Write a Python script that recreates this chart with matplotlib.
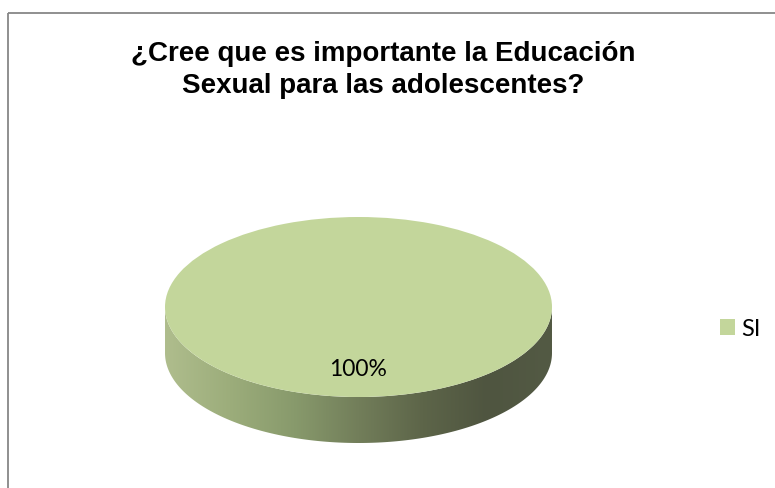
import numpy as np
import matplotlib
matplotlib.use("Agg")
import matplotlib.pyplot as plt
from matplotlib.patches import Rectangle, Polygon
from matplotlib.colors import LinearSegmentedColormap

# survey answer shares
labels = ["SI"]
values = [100]

title = "¿Cree que es importante la Educación\nSexual para las adolescentes?"

W, H = 775, 488
top_color = "#c3d69b"
side_colors = ["#afbd8d", "#9cad7b", "#889a6c", "#727e5a", "#5d6549", "#4f5540", "#535a44"]

# pie geometry in pixels (y grows downward)
cx, cy = 358.5, 307.0
rx, ry = 193.5, 90.0
depth = 46.0

fig = plt.figure(figsize=(W / 100, H / 100), dpi=100)
fig.patch.set_facecolor("white")

base = fig.add_axes([0, 0, 1, 1])
base.set_xlim(0, W)
base.set_ylim(H, 0)
base.axis("off")

# chart area border (runs off the right and bottom edges)
base.add_patch(Rectangle((8, 12.7), W + 20, H + 20, fill=False,
                         edgecolor="#878787", linewidth=1.3))

base.text(383.5, 70, title, ha="center", va="center", fontsize=20,
          fontweight="bold", family="Liberation Sans", linespacing=1.3,
          color="black")

# side wall of the 3d pie, shaded left to right
t = np.linspace(0, np.pi, 200)
upper = np.column_stack([cx - rx * np.cos(t), cy + ry * np.sin(t)])
lower = np.column_stack([cx - rx * np.cos(t[::-1]), cy + depth + ry * np.sin(t[::-1])])
band = Polygon(np.vstack([upper, lower]), closed=True, facecolor="none", edgecolor="none")
base.add_patch(band)
cmap = LinearSegmentedColormap.from_list("side", side_colors)
grad = np.linspace(0, 1, 256).reshape(1, -1)
img = base.imshow(grad, cmap=cmap, aspect="auto",
                  extent=(cx - rx, cx + rx, cy + ry + depth, cy - 5),
                  interpolation="bilinear", zorder=1)
img.set_clip_path(band)
base.set_xlim(0, W)
base.set_ylim(H, 0)

# top face of the pie
pie_ax = fig.add_axes([(cx - rx) / W, 1 - (cy + ry) / H, 2 * rx / W, 2 * ry / H])
wedges, _, autotexts = pie_ax.pie(values, colors=[top_color], radius=1, startangle=90,
                                  autopct="%1.0f%%", pctdistance=0.70,
                                  wedgeprops=dict(linewidth=0),
                                  textprops=dict(fontsize=16.5, family="Lato", color="black"))
pie_ax.set_xlim(-1, 1)
pie_ax.set_ylim(-1, 1)
pie_ax.set_aspect("auto")
pie_ax.axis("off")

fig.legend(wedges, labels, loc="center left", bbox_to_anchor=(720 / W, 1 - 329 / H),
           frameon=False, prop=dict(family="Lato", size=17), handlelength=0.65,
           handleheight=0.65, handletextpad=0.25, borderpad=0, borderaxespad=0)

fig.savefig("out.png", dpi=100)
